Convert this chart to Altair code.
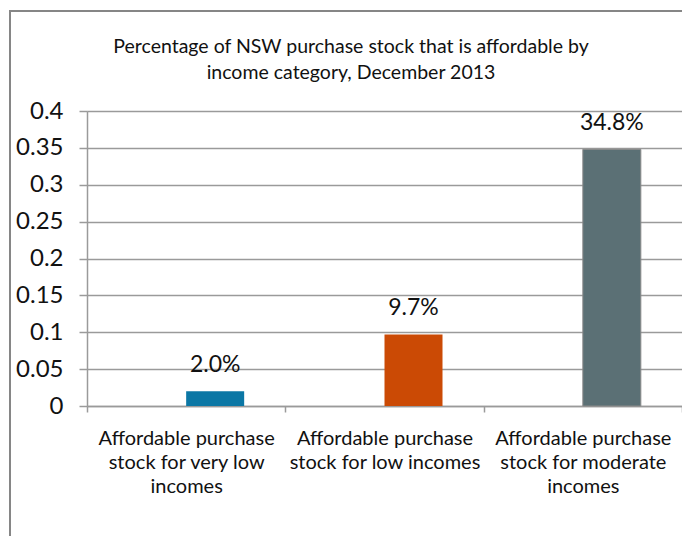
import altair as alt
import pandas as pd

categories = [
    "Affordable purchase|stock for very low|incomes",
    "Affordable purchase|stock for low incomes",
    "Affordable purchase|stock for moderate|incomes",
]
values = [0.020, 0.097, 0.348]
colors = ["#0B77A5", "#CB4A05", "#5B7075"]
y_ticks = [0, 0.05, 0.1, 0.15, 0.2, 0.25, 0.3, 0.35, 0.4]
title_lines = [
    "Percentage of NSW purchase stock that is affordable by",
    "income category, December 2013",
]

df = pd.DataFrame({"category": categories, "value": values})

FONT = "Lato"
W, H = 595, 295
GRAY = "#9a9a9a"

x_axis = alt.Axis(
    labelAngle=0,
    labelExpr="split(datum.label, '|')",
    labelFont=FONT,
    labelFontSize=20,
    labelLineHeight=24,
    labelLimit=400,
    labelColor="#111111",
    labelPadding=16,
    tickBand="extent",
    tickSize=6,
    tickColor=GRAY,
    domainColor=GRAY,
    domainWidth=1.5,
    tickWidth=1.5,
    grid=False,
)
y_axis = alt.Axis(
    values=y_ticks,
    format="~g",
    labelOverlap=False,
    labelFont=FONT,
    labelFontSize=24,
    labelColor="#111111",
    labelPadding=16,
    tickSize=8,
    tickColor=GRAY,
    tickWidth=1.5,
    domainColor=GRAY,
    domainWidth=1.5,
    gridColor=GRAY,
    gridWidth=1.5,
)


def x_enc():
    return alt.X("category:N", sort=categories, title=None,
                 scale=alt.Scale(paddingInner=0, paddingOuter=0), axis=x_axis)


def y_enc():
    return alt.Y("value:Q", title=None,
                 scale=alt.Scale(domain=[0, 0.4], nice=False), axis=y_axis)


frame = alt.Chart(alt.Data(values=[{"a": 1}])).mark_rect(
    fill="transparent", stroke="#868686", strokeWidth=2
).encode(
    x=alt.value(-77), x2=alt.value(W + 40),
    y=alt.value(-100), y2=alt.value(H + 300),
)

title = alt.Chart(alt.Data(values=[{"a": 1}])).mark_text(
    text=title_lines, font=FONT, fontSize=19.5, lineHeight=26,
    baseline="alphabetic", align="center", color="#111111",
).encode(x=alt.value(264), y=alt.value(-58))

bars = alt.Chart(df).mark_bar(width=58, xOffset=29).encode(
    x=x_enc(),
    y=y_enc(),
    color=alt.Color("category:N", sort=categories,
                    scale=alt.Scale(domain=categories, range=colors), legend=None),
    stroke=alt.condition(alt.datum.value > 0.3, alt.value("#8a8a8a"), alt.value(None)),
)

labels = alt.Chart(df).mark_text(
    xOffset=29, dy=-19, baseline="alphabetic", font=FONT, fontSize=23, color="#111111"
).encode(
    x=x_enc(),
    y=y_enc(),
    text=alt.Text("value:Q", format=".1%"),
)

chart = alt.layer(frame, title, bars, labels).properties(
    width=W,
    height=H,
    autosize=alt.AutoSizeParams(type="none"),
    padding={"left": 79, "top": 103, "right": 0, "bottom": 130},
).configure_view(stroke=None).configure(background="white")

chart.save("out.html", embed_options={"renderer": "svg", "actions": False})
